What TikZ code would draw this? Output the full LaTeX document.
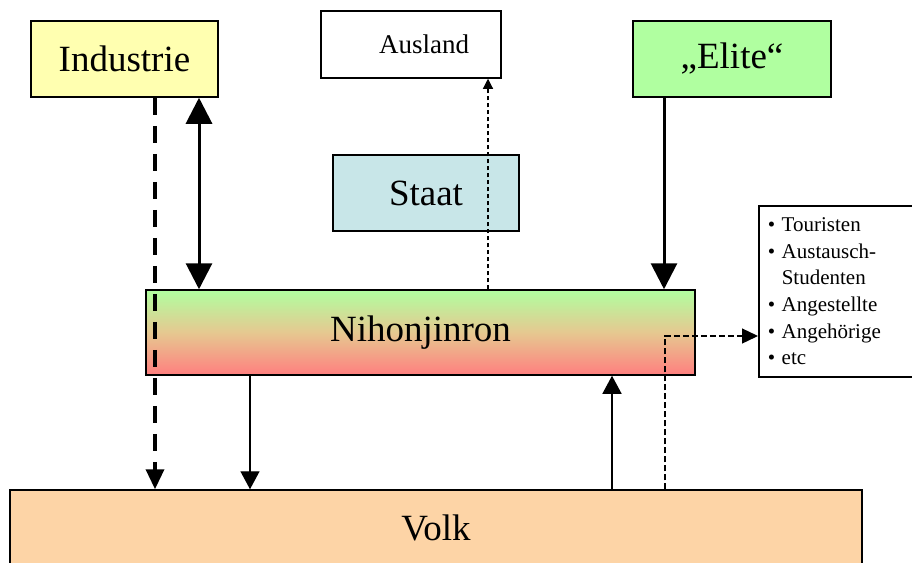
\documentclass[tikz,border=0pt]{standalone}
\usepackage{fontspec}
\setmainfont{Liberation Serif}
\usetikzlibrary{arrows.meta}

\definecolor{industriefill}{HTML}{FFFFB0}
\definecolor{elitefill}{HTML}{B0FFA0}
\definecolor{staatfill}{HTML}{C8E6E8}
\definecolor{volkfill}{HTML}{FDD4A6}
\definecolor{nihontop}{HTML}{B0FFA0}
\definecolor{nihonmid}{HTML}{E6C890}
\definecolor{nihonbottom}{HTML}{FF7F7F}

\newcommand\listbullet{\makebox[14pt][l]{\textbullet}}

\tikzset{
  bighead/.tip={Triangle[length=26pt,width=26pt]},
  box/.style={draw=black, line width=1.5pt, inner sep=0pt, align=center},
  bigtext/.style={font=\fontsize{37}{40}\selectfont},
  midtext/.style={font=\fontsize{27}{30}\selectfont},
  thickarrow/.style={line width=3pt, -{bighead}},
  thickdashed/.style={line width=3.5pt, dash pattern=on 17pt off 11pt,
                      -{Triangle[length=20pt,width=18pt]}},
  thinarrow/.style={line width=1.4pt, -{Triangle[length=18pt,width=19pt]}},
  thindashed/.style={line width=1.3pt, dash pattern=on 6pt off 3pt,
                     -{Triangle[length=16pt,width=15pt]}},
  finedashed/.style={line width=1.1pt, dash pattern=on 4pt off 3pt,
                     -{Triangle[length=10pt,width=10pt]}},
}

\begin{document}
\begin{tikzpicture}[x=1pt, y=-1pt]
\useasboundingbox (0,0) rectangle (912,562);

% boxes
\node[box, bigtext, fill=industriefill, minimum width=187pt, minimum height=76pt]
  (industrie) at (124.5,59) {Industrie};
\node[box, midtext, fill=white, minimum width=180pt, minimum height=67pt]
  (ausland) at (411,44.5) {\hspace*{26pt}Ausland};
\node[box, bigtext, fill=elitefill, minimum width=198pt, minimum height=76pt]
  (elite) at (732,59) {„Elite“};
\node[box, bigtext, fill=staatfill, minimum width=186pt, minimum height=76pt]
  (staat) at (426,193) {Staat};
\node[box, bigtext, top color=nihontop, bottom color=nihonbottom, middle color=nihonmid,
      minimum width=549pt, minimum height=85pt]
  (nihon) at (420.5,332.5) {Nihonjinron};
\node[box, bigtext, fill=volkfill, minimum width=852pt, minimum height=76pt]
  (volk) at (436,528) {Volk};
\node[box, fill=white, align=left, anchor=north west, inner xsep=9pt,
      minimum width=165pt, minimum height=171pt, text width=147pt,
      font=\fontsize{21}{26.6}\selectfont]
  (gruppen) at (758,205)
  {\listbullet Touristen\\
   \listbullet Austausch-\\
   \hspace*{14pt}Studenten\\
   \listbullet Angestellte\\
   \listbullet Angehörige\\
   \listbullet etc};

% connectors
\draw[thickdashed] (155,0 |- industrie.south) -- (155,0 |- volk.north);
\draw[line width=3pt, {bighead}-{bighead}]
  (199,0 |- industrie.south) -- (199,0 |- nihon.north);
\draw[thickarrow] (664,0 |- elite.south) -- (664,0 |- nihon.north);
\draw[finedashed] (488,0 |- nihon.north) -- (488,0 |- ausland.south);
\draw[thinarrow] (250,0 |- nihon.south) -- (250,0 |- volk.north);
\draw[thinarrow] (612,0 |- volk.north) -- (612,0 |- nihon.south);
\coordinate (knick) at (665,336);
\draw[thindashed] (665,0 |- volk.north) -- (knick) -- (knick -| gruppen.west);
\end{tikzpicture}
\end{document}
